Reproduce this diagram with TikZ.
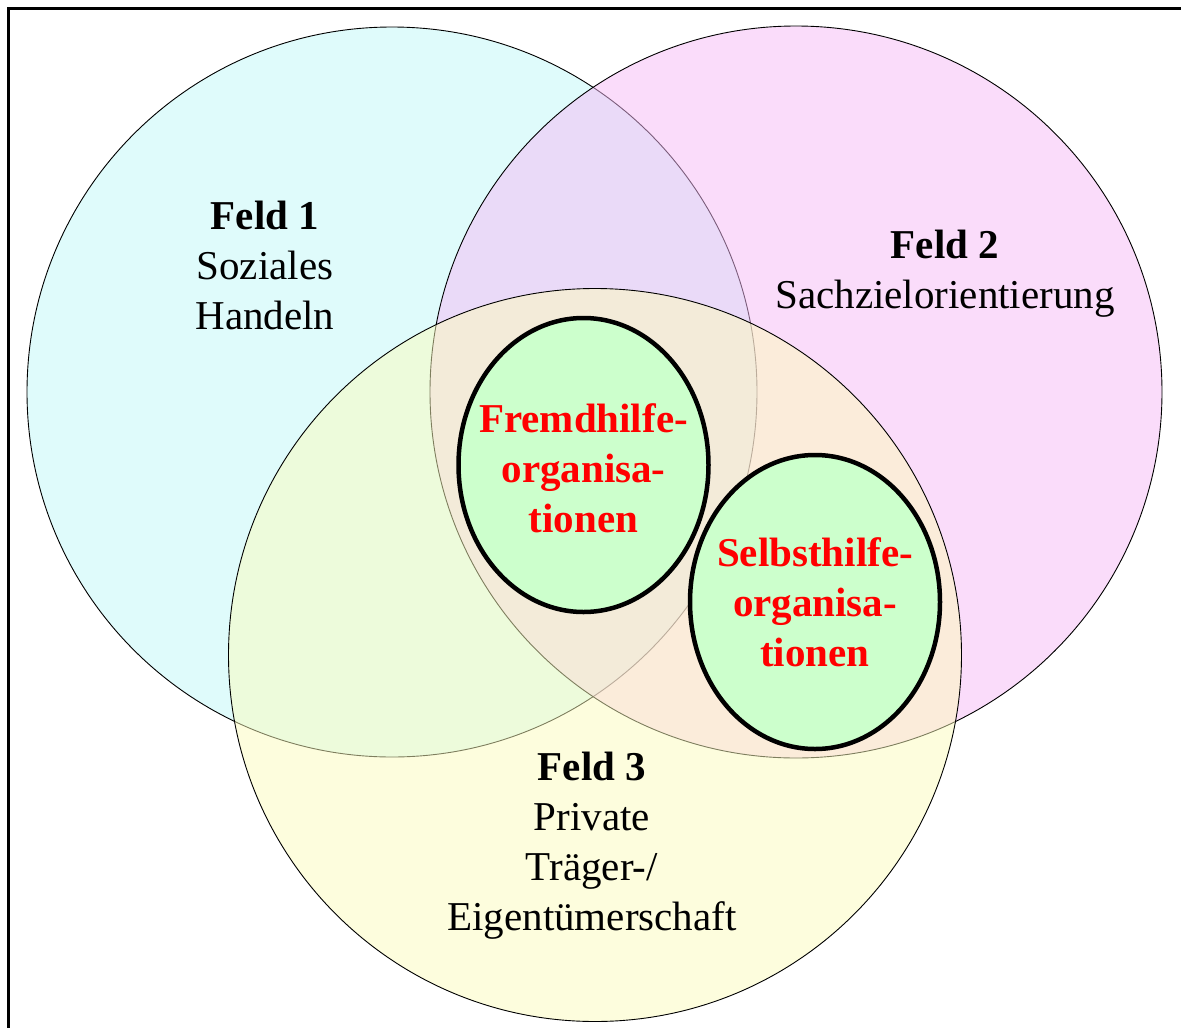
\documentclass[tikz,border=0pt]{standalone}
\usepackage{fontspec}
\setmainfont{Liberation Serif}
\usetikzlibrary{shapes.geometric}
\definecolor{cyanfill}{RGB}{192,248,248}
\definecolor{magfill}{RGB}{246,186,246}
\definecolor{yelfill}{RGB}{252,252,188}
\definecolor{orggreen}{RGB}{204,255,204}
\definecolor{orgred}{RGB}{255,0,0}
\begin{document}
\begin{tikzpicture}[x=1pt,y=-1pt,
  venn/.style={circle, draw=black, line width=0.9pt, fill opacity=0.5, draw opacity=1, text opacity=1, inner sep=0pt, minimum size=#1},
  orgbox/.style={ellipse, draw=black, line width=4.5pt, fill=orggreen, inner sep=0pt, minimum width=250pt, minimum height=294pt},
  orgtext/.style={align=center, text=orgred, inner sep=0pt, font=\fontsize{41}{50}\selectfont\bfseries},
  lbl/.style={align=center, font=\fontsize{41}{50}\selectfont, inner sep=0pt}]
\useasboundingbox (0,0) rectangle (1181,1028);
\fill[white] (0,0) rectangle (1181,1028);
\draw[line width=3pt] (8,1028) -- (8,8) -- (1181,8);
\node[venn=730pt, fill=cyanfill] (feld1) at (392,392) {};
\node[venn=732pt, fill=magfill] (feld2) at (796,392) {};
\node[venn=733pt, fill=yelfill] (feld3) at (595,655) {};
\node[orgbox] (fremd) at (583.5,465) {};
\node[orgbox] (selbst) at (815,602) {};
\node[orgtext] (fremdtext) at ([yshift=-3pt]fremd.center) {Fremdhilfe-\\organisa-\\tionen};
\node[orgtext] (selbsttext) at (selbst.center) {Selbsthilfe-\\organisa-\\tionen};
\node[lbl] (t1) at (265,265) {\textbf{Feld 1}\\Soziales\\Handeln};
\node[lbl] (t2) at (945,274) {\textbf{Feld 2}\\Sachzielorientierung};
\node[lbl] (t3) at (592,846) {\textbf{Feld 3}\\Private\\Träger-/\\Eigentümerschaft};
\end{tikzpicture}
\end{document}
